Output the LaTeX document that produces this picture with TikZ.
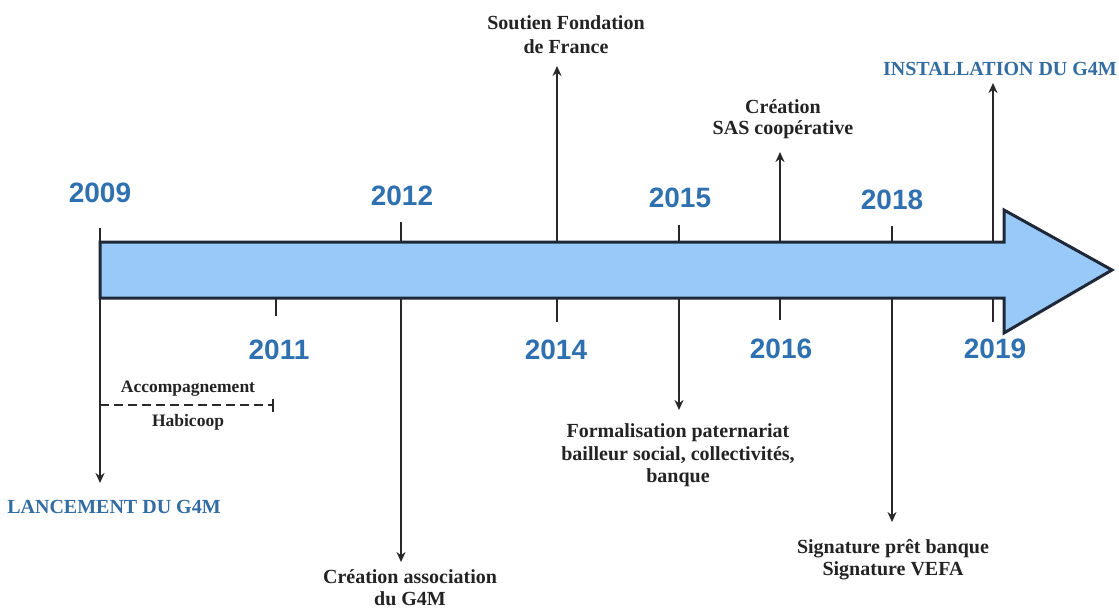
\documentclass[tikz,border=0pt]{standalone}
\usepackage{fontspec}
\setmainfont{Liberation Serif}
\newfontfamily\yearfont{Liberation Sans}
\usetikzlibrary{arrows.meta}
\definecolor{yearblue}{RGB}{46,112,176}
\definecolor{labblue}{RGB}{50,108,160}
\definecolor{bandfill}{RGB}{152,201,248}
\definecolor{bandline}{RGB}{30,40,55}
\definecolor{tickc}{RGB}{40,40,40}
\definecolor{labtext}{RGB}{35,35,35}
\begin{document}
\begin{tikzpicture}[x=1pt,y=-1pt,
  year/.style={font=\yearfont\bfseries\fontsize{28}{32}\selectfont, text=yearblue, inner sep=0pt},
  lab/.style={font=\bfseries\fontsize{20}{24}\selectfont, align=center, inner sep=1pt, text=labtext},
  smalllab/.style={font=\bfseries\fontsize{17.5}{20}\selectfont, inner sep=0pt, text=labtext},
  bluelab/.style={font=\bfseries\fontsize{20}{24}\selectfont, text=labblue, inner sep=1pt},
  tickline/.style={draw=tickc, line width=2.5pt},
  evarrow/.style={draw=tickc, line width=2.5pt, -{Stealth[length=10pt,width=9pt]}},
  dashline/.style={draw=tickc, line width=1.6pt, dash pattern=on 9pt off 5pt, -{Bar[width=13pt,line width=1.6pt]}},
  band/.style={draw=bandline, line width=3pt, fill=bandfill, line join=miter}
]
\useasboundingbox (0,0) rectangle (1119,610);

% reference levels of the band
\coordinate (bandtop) at (0,242);
\coordinate (bandbot) at (0,298);

% tick / stem coordinates
\coordinate (t09) at (100,228);
\coordinate (t12) at (401,222);
\coordinate (t14) at (557,242);
\coordinate (t15) at (679,225);
\coordinate (t16) at (780,242);
\coordinate (t18) at (892,226);
\coordinate (t19) at (993,242);
\coordinate (b09) at (100,298);
\coordinate (b11) at (276,298);
\coordinate (b11e) at (276,316);
\coordinate (b12) at (401,298);
\coordinate (b14) at (557,298);
\coordinate (b14e) at (557,322);
\coordinate (b15) at (679,298);
\coordinate (b16) at (780,298);
\coordinate (b16e) at (780,320);
\coordinate (b18) at (892,298);
\coordinate (b19) at (993,298);
\coordinate (b19e) at (993,322);

% year labels
\node[year] (y2009) at (100,193) {2009};
\node[year] (y2012) at (402,196) {2012};
\node[year] (y2015) at (680,198) {2015};
\node[year] (y2018) at (892,200) {2018};
\node[year] (y2011) at (279,350) {2011};
\node[year] (y2014) at (556,350) {2014};
\node[year] (y2016) at (781,349) {2016};
\node[year] (y2019) at (995,349) {2019};

% event labels
\node[bluelab, anchor=north] (lanc) at (114,499) {LANCEMENT DU G4M};
\node[lab, anchor=north] (assoc) at (410,568) {Création association\\[-2pt]du G4M};
\node[lab, anchor=north] (formal) at (678,422) {Formalisation paternariat\\[-1pt]bailleur social, collectivités,\\[-2pt]banque};
\node[lab, anchor=north] (sign) at (893,538) {Signature prêt banque\\[-2pt]Signature VEFA};
\node[lab, anchor=south] (soutien) at (566,55) {Soutien Fondation\\de France};
\node[lab, anchor=south] (sas) at (783,140) {Création\\[-3pt]SAS coopérative};
\node[bluelab, anchor=south] (install) at (1000,77) {INSTALLATION DU G4M};

\node[smalllab] (accomp) at (188,389) {Accompagnement};
\node[smalllab] (habi) at (188,422) {Habicoop};

% ticks above the band
\draw[tickline] (t09) -- (t09 |- bandtop);
\draw[tickline] (t12) -- (t12 |- bandtop);
\draw[tickline] (t15) -- (t15 |- bandtop);
\draw[tickline] (t18) -- (t18 |- bandtop);
% ticks below the band
\draw[tickline] (b11) -- (b11e);
\draw[tickline] (b14) -- (b14e);
\draw[tickline] (b16) -- (b16e);
\draw[tickline] (b19) -- (b19e);

% event arrows
\draw[evarrow, shorten >=16pt] (b09) -- (b09 |- lanc.north);
\draw[evarrow, shorten >=6pt] (b12) -- (b12 |- assoc.north);
\draw[evarrow, shorten >=12pt] (b15) -- (b15 |- formal.north);
\draw[evarrow, shorten >=16pt] (b18) -- (b18 |- sign.north);
\draw[evarrow, shorten >=11pt] (t14) -- (t14 |- soutien.south);
\draw[evarrow, shorten >=12pt] (t16) -- (t16 |- sas.south);
\draw[evarrow, shorten >=6pt] (t19) -- (t19 |- install.south);

% accompaniment period
\coordinate (accS) at (100,405);
\coordinate (accE) at (274,405);
\draw[dashline] (accS) -- (accE);

% the timeline band
\draw[band] (100,242) -- (1004,242) -- (1004,210) -- (1112,270) -- (1004,333) -- (1004,298) -- (100,298) -- cycle;
\end{tikzpicture}
\end{document}
